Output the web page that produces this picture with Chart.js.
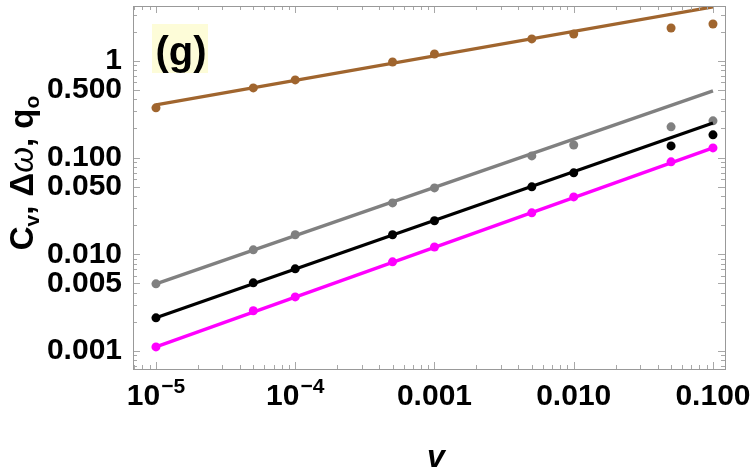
<!DOCTYPE html>
<html lang="en">

<head>
    <meta charset="UTF-8">
    <script src="https://cdn.jsdelivr.net/npm/chart.js"></script>
    <title>(g) log-log</title>
    <style>
        body { margin: 0; background: white; }
        #box { width: 750px; height: 467px; }
    </style>
</head>

<body>
    <div id="box">
        <canvas id="grafico" width="750" height="467"></canvas>
    </div>
</body>

</html>
<script>

    // valores de v (eixo x)
    const nu = [1e-5, 5e-5, 1e-4, 5e-4, 1e-3, 5e-3, 1e-2, 5e-2, 1e-1];

    // pontos de cada serie
    const brownPts = [0.327, 0.526, 0.636, 0.976, 1.18, 1.69, 1.90, 2.19, 2.41];
    const grayPts = [0.00494, 0.0111, 0.0159, 0.034, 0.0486, 0.104, 0.135, 0.208, 0.240];
    const blackPts = [0.0022, 0.00506, 0.00706, 0.0159, 0.0222, 0.0498, 0.0695, 0.132, 0.172];
    const magentaPts = [0.0011, 0.0026, 0.00362, 0.00834, 0.0119, 0.0268, 0.0392, 0.0903, 0.126];

    // retas ajustadas (extremos)
    const fitX = [1e-5, 1e-1];
    const brownFit = [0.351, 3.62];
    const grayFit = [0.00494, 0.49];
    const blackFit = [0.0022, 0.228];
    const magentaFit = [0.0011, 0.126];

    // ticks (mantissa/expoente para os rotulos do eixo x)
    const xTicks = [1e-5, 1e-4, 1e-3, 1e-2, 1e-1];
    const xTickLabels = [['10', '\u22125'], ['10', '\u22124'], ['0.001'], ['0.010'], ['0.100']];
    const yTicks = [0.001, 0.005, 0.01, 0.05, 0.1, 0.5, 1];
    const yTickLabels = ['0.001', '0.005', '0.010', '0.050', '0.100', '0.500', '1'];

    const fonte = "'Liberation Sans', Arial, sans-serif";

    function pares(xs, ys) {
        return xs.map((x, i) => ({ x: x, y: ys[i] }));
    }

    function serieLinha(ys, cor) {
        return {
            data: pares(fitX, ys),
            borderColor: cor,
            borderWidth: 3.3,
            pointRadius: 0,
            showLine: true,
            fill: false
        };
    }

    function seriePontos(ys, cor) {
        return {
            data: pares(nu, ys),
            backgroundColor: cor,
            borderColor: cor,
            pointRadius: 4.5,
            pointBorderWidth: 0,
            showLine: false
        };
    }

    // moldura + ticks para dentro (estilo Mathematica)
    const moldura = {
        id: 'moldura',
        afterDatasetsDraw(chart) {
            const ctx = chart.ctx;
            const a = chart.chartArea;
            const sx = chart.scales.x, sy = chart.scales.y;
            ctx.save();
            ctx.strokeStyle = '#a8a8a8';
            ctx.lineWidth = 1;

            for (let e = -7; e <= 1; e++) {
                for (let m = 1; m <= 9; m++) {
                    const v = m * Math.pow(10, e);
                    if (v >= sx.min && v <= sx.max) {
                        const px = Math.round(sx.getPixelForValue(v)) + 0.5;
                        const L = xTicks.some(t => Math.abs(t - v) / v < 1e-6) ? 7 : 4;
                        ctx.beginPath();
                        ctx.moveTo(px, a.bottom); ctx.lineTo(px, a.bottom - L);
                        ctx.moveTo(px, a.top); ctx.lineTo(px, a.top + L);
                        ctx.stroke();
                    }
                    if (v >= sy.min && v <= sy.max) {
                        const py = Math.round(sy.getPixelForValue(v)) + 0.5;
                        const L = yTicks.some(t => Math.abs(t - v) / v < 1e-6) ? 7 : 4;
                        ctx.beginPath();
                        ctx.moveTo(a.left, py); ctx.lineTo(a.left + L, py);
                        ctx.moveTo(a.right, py); ctx.lineTo(a.right - L, py);
                        ctx.stroke();
                    }
                }
            }

            ctx.strokeStyle = '#999999';
            ctx.strokeRect(Math.round(a.left) + 0.5, Math.round(a.top) + 0.5,
                Math.round(a.right - a.left), Math.round(a.bottom - a.top));

            // rotulos do eixo x (com expoente)
            ctx.fillStyle = 'black';
            ctx.textBaseline = 'alphabetic';
            ctx.textAlign = 'left';
            xTicks.forEach((v, i) => {
                const lab = xTickLabels[i];
                ctx.font = 'bold 30px ' + fonte;
                const w0 = ctx.measureText(lab[0]).width;
                let w1 = 0;
                if (lab[1]) {
                    ctx.font = 'bold 21px ' + fonte;
                    w1 = ctx.measureText(lab[1]).width + 1;
                }
                const px = sx.getPixelForValue(v);
                let x0 = px - (w0 + w1) / 2;
                ctx.font = 'bold 30px ' + fonte;
                ctx.fillText(lab[0], x0, 405);
                if (lab[1]) {
                    ctx.font = 'bold 21px ' + fonte;
                    ctx.fillText(lab[1], x0 + w0 + 1, 393);
                }
            });

            // rotulo (g)
            ctx.fillStyle = '#fdfcd8';
            ctx.fillRect(152, 24, 56, 49);
            ctx.fillStyle = 'black';
            ctx.font = 'bold 40px ' + fonte;
            ctx.textAlign = 'center';
            ctx.fillText('(g)', 181, 65);

            // titulo eixo x
            ctx.font = 'italic bold 32px ' + fonte;
            ctx.fillText('v', 436, 467);

            // titulo eixo y com subscritos
            const partes = [
                ['C', 'bold 33px', 0],
                ['v', 'bold 21px', 6],
                [', \u0394', 'bold 33px', 0],
                ['\u03C9', 'italic 33px', 0],
                [', q', 'bold 33px', 0],
                ['o', 'bold 21px', 6]
            ];
            let total = 0;
            partes.forEach(p => { ctx.font = p[1] + ' ' + fonte; total += ctx.measureText(p[0]).width; });
            ctx.translate(33, 173);
            ctx.rotate(-Math.PI / 2);
            ctx.textAlign = 'left';
            let pos = -total / 2;
            partes.forEach(p => {
                ctx.font = p[1] + ' ' + fonte;
                ctx.fillText(p[0], pos, p[2]);
                pos += ctx.measureText(p[0]).width;
            });
            ctx.restore();
        }
    };

    const config = {
        type: 'scatter',
        data: {
            datasets: [
                serieLinha(brownFit, '#a0652e'),
                serieLinha(grayFit, '#808080'),
                serieLinha(blackFit, '#000000'),
                serieLinha(magentaFit, '#ff00ff'),
                seriePontos(brownPts, '#a0652e'),
                seriePontos(grayPts, '#808080'),
                seriePontos(blackPts, '#000000'),
                seriePontos(magentaPts, '#ff00ff')
            ]
        },
        options: {
            responsive: false,
            animation: false,
            layout: { padding: { top: 6, right: 25, left: 0, bottom: 0 } },
            plugins: {
                legend: { display: false },
                tooltip: { enabled: false }
            },
            scales: {
                x: {
                    type: 'logarithmic',
                    min: 6.84e-6,
                    max: 0.122,
                    grid: { display: false },
                    border: { display: false },
                    afterBuildTicks: s => { s.ticks = xTicks.map(v => ({ value: v })); },
                    afterFit: s => { s.height = 98; s.paddingLeft = 0; s.paddingRight = 0; },
                    ticks: { display: false }
                },
                y: {
                    type: 'logarithmic',
                    min: 6.5e-4,
                    max: 3.7,
                    grid: { display: false },
                    border: { display: false },
                    afterBuildTicks: s => { s.ticks = yTicks.map(v => ({ value: v })); },
                    afterFit: s => { s.width = 133; s.paddingTop = 0; s.paddingBottom = 0; },
                    ticks: {
                        autoSkip: false,
                        padding: 3,
                        color: 'black',
                        font: { family: fonte, size: 30, weight: 'bold' },
                        callback: (v, i) => yTickLabels[i]
                    }
                }
            }
        },
        plugins: [moldura]
    };

    let grafico = new Chart(document.getElementById('grafico'), config);

</script>
